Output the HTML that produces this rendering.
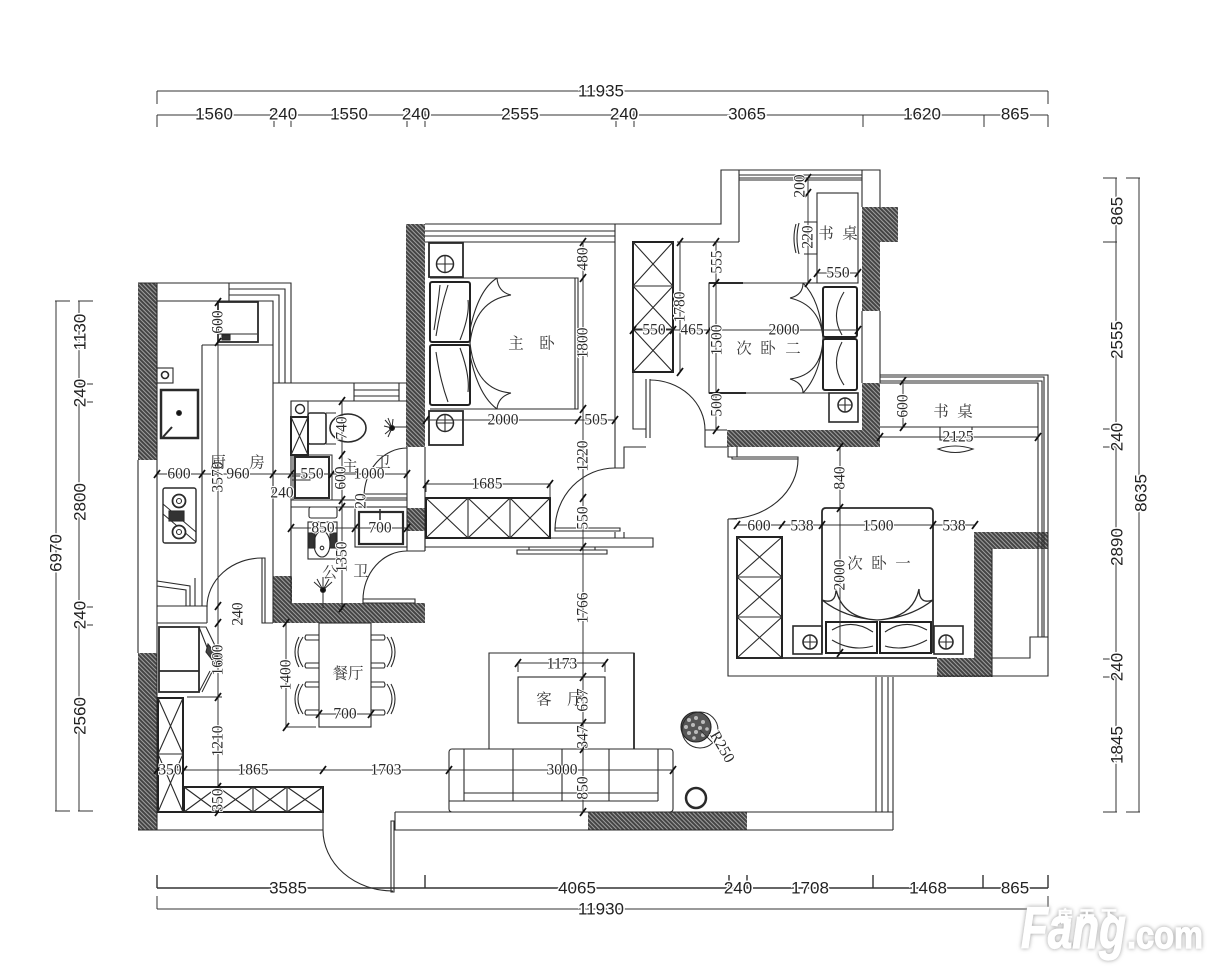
<!DOCTYPE html>
<html><head><meta charset="utf-8"><style>
html,body{margin:0;padding:0;background:#fff}
svg{display:block;filter:blur(.3px)}
.l{fill:none;stroke:#2a2a2a;stroke-width:1.1}
.h{fill:none;stroke:#222;stroke-width:2}
.d{fill:none;stroke:#333;stroke-width:1}
.s text{font-family:"Liberation Serif","Noto Serif CJK SC",serif;font-size:15.5px;fill:#2a2a2a;text-anchor:middle;dominant-baseline:central;paint-order:stroke;stroke:#fff;stroke-width:2px}
.a text{font-family:"Liberation Sans",sans-serif;font-size:17px;fill:#222;text-anchor:middle;dominant-baseline:central;paint-order:stroke;stroke:#fff;stroke-width:3px}
.c text{font-family:"Liberation Serif","Noto Serif CJK SC",serif;font-size:15.5px;fill:#3a3a3a;text-anchor:middle;dominant-baseline:central}
</style></head><body>
<svg width="1220" height="974" viewBox="0 0 1220 974" xmlns="http://www.w3.org/2000/svg">
<defs>
<pattern id="hp" width="3" height="3" patternUnits="userSpaceOnUse" patternTransform="rotate(45)"><rect width="3" height="3" fill="#444"/><rect width="3" height="1" fill="#a0a0a0"/></pattern>
<path id="t" d="M-3 4L3-4" stroke="#111" stroke-width="1.8" fill="none"/>
<filter id="wm" x="-10%" y="-20%" width="120%" height="140%"><feDropShadow dx="0" dy="0" stdDeviation="2" flood-color="#999"/></filter>
</defs>
<rect width="1220" height="974" fill="#fff"/>

<!-- hatch -->
<g fill="url(#hp)">
<rect x="138" y="283" width="19" height="177"/>
<rect x="138" y="653" width="19" height="177"/>
<rect x="406" y="224" width="19" height="223"/>
<rect x="273" y="576" width="19" height="47"/>
<rect x="273" y="603" width="152" height="20"/>
<rect x="407" y="508" width="18" height="23"/>
<path d="M862 207H898V242H880V311H862Z"/>
<path d="M862 383H880V447H727V430H862Z"/>
<path d="M974 532H1048V549H992V677H937V658H974Z"/>
<rect x="588" y="812" width="159" height="18"/>
</g>

<!-- walls -->
<g class="l">
<path d="M138 283H291V383M229 283V301M229 289H285V383M229 295H279V383M157 301H273V623M157 283V830M138 460V653"/>
<path d="M273 383H407M354 383V401M399 383V401M354 390H399M354 396H399M291 401H407M291 401V603"/>
<path d="M202 345H273M202 345V606M157 606H207V623M157 623H207M265 623H273"/>
<path d="M138 830H323M323 787V830M395 812V830H893M395 812H893M893 677V830M876 677V812M882 677V812M888 677V812"/>
<path d="M425 224H721V170H880V207M739 170V242M677 242H739M862 170V207M739 175H862M739 178H862M739 180H862"/>
<path d="M425 231H615M425 236H615M425 242H615M615 224V468H624V447H646M425 447V551"/>
<path d="M633 372V429H646M646 379V438M650 379V438M705 430V447H727M705 430H727"/>
<path d="M425 538H653V547H425M615 532V538M624 532V538M555 528H620V531H555Z"/>
<path d="M517 550H607V554H517ZM529 547H595V550H529Z"/>
<path d="M291 500H407M291 507H407M407 447V508M407 531V551H425M425 531V551M363 494H407V498H363Z"/>
<path d="M363 599H415V603H363Z"/>
<path d="M262 558H265V623H262Z"/>
<path d="M862 311V383M880 311V383M880 375H1048V676H728V519M880 377H1044V637M880 381H1042V637M880 383H1038V637M880 427H1038M880 437H1038"/>
<path d="M992 549V677M992 658H1030V637H1048M728 519H737M728 447V457H737V447M732 457H798V459H732Z"/>
<path d="M391 821H394V892H391Z"/>
</g>
<!-- door arcs -->
<g class="l">
<path d="M323 830A70 61 0 0 0 393 891"/>
<path d="M615 468A60 62 0 0 0 555 530"/>
<path d="M650 380A55 50 0 0 1 705 430"/>
<path d="M407 448A43 49 0 0 0 364 497"/>
<path d="M407 551A44 49 0 0 0 363 600"/>
<path d="M262 558A55 49 0 0 0 207 607"/>
<path d="M798 459A70 60 0 0 1 728 519"/>
</g>

<!-- wardrobes -->
<g class="l">
<rect class="h" x="633" y="242" width="40" height="130"/>
<path d="M633 286H673M633 329H673M633 242L673 286M673 242L633 286M633 286L673 329M673 286L633 329M633 329L673 372M673 329L633 372"/>
<rect class="h" x="426" y="498" width="124" height="40"/>
<path d="M468 498V538M510 498V538M426 498L468 538M468 498L426 538M468 498L510 538M510 498L468 538M510 498L550 538M550 498L510 538"/>
<rect class="h" x="737" y="537" width="45" height="121"/>
<path d="M737 577H782M737 617H782M737 537L782 577M782 537L737 577M737 577L782 617M782 577L737 617M737 617L782 658M782 617L737 658"/>
<rect class="h" x="158" y="698" width="25" height="114"/>
<path d="M158 754H183M158 698L183 754M183 698L158 754M158 754L183 812M183 754L158 812"/>
<rect class="h" x="184" y="787" width="139" height="25"/>
<path d="M218 787V812M253 787V812M287 787V812M184 787L218 812M218 787L184 812M218 787L253 812M253 787L218 812M253 787L287 812M287 787L253 812M287 787L323 812M323 787L287 812"/>
<rect x="291" y="417" width="17" height="38" class="h"/>
<path d="M291 417L308 455M308 417L291 455"/>
</g>

<!-- master bed -->
<g class="l">
<path d="M430 278H578V409H430M575 278V409"/>
<rect class="h" x="430" y="282" width="40" height="60" rx="2"/>
<rect class="h" x="430" y="345" width="40" height="60" rx="2"/>
<path d="M497 278Q478 290 470 330M497 278Q498 292 511 295M511 295Q475 300 470 343Q475 390 511 393M497 409Q478 395 470 355M497 409Q498 397 511 393"/>
<path d="M448 285Q440 310 436 336M440 285Q438 305 434 330M448 402Q440 380 436 352M460 340Q470 315 468 300M460 348Q470 375 468 392"/>
<rect x="429" y="243" width="34" height="34" stroke-width="1.8"/>
<rect x="429" y="411" width="34" height="34" stroke-width="1.8"/>
<circle cx="445" cy="264" r="8.5" stroke-width="1.5"/><path d="M445 255V273M436 264H454"/>
<circle cx="445" cy="423" r="8.5" stroke-width="1.5"/><path d="M445 414V432M436 423H454"/>
</g>

<!-- bedroom 2 -->
<g class="l">
<path d="M858 283H709V393H858"/>
<path d="M709 283H743M709 393H746" stroke-width="2"/>
<rect class="h" x="823" y="287" width="34" height="50" rx="2"/>
<rect class="h" x="823" y="339" width="34" height="51" rx="2"/>
<path d="M803 283Q820 300 823 338M803 283Q803 295 790 298M790 298Q820 305 823 338Q822 375 790 379M803 393Q820 375 823 340M803 393Q803 383 790 379"/>
<path d="M844 292Q830 315 842 335M844 385Q830 365 842 342"/>
<rect x="829" y="393" width="29" height="29" stroke-width="1.6"/>
<circle cx="845" cy="405" r="7" stroke-width="1.5"/><path d="M845 398V412M838 405H852"/>
<rect x="817" y="193" width="41" height="90"/>
<path d="M804 222H817V254H804M796 224Q792 238 796 253M799 223Q795 238 799 254"/>
<path d="M940 427V440H972V427M938 449Q955 456 973 449Q955 443 938 449Z"/>
</g>

<!-- bedroom 1 bed -->
<g class="l">
<path d="M822 653V512Q822 508 826 508H929Q933 508 933 512V653" stroke-width="1.8"/>
<rect class="h" x="826" y="622" width="51" height="31"/>
<rect class="h" x="880" y="622" width="51" height="31"/>
<path d="M822 600Q836 605 836 589M933 600Q919 605 919 589M836 589Q842 618 877 620Q913 618 919 589M822 600Q845 618 877 620Q910 618 933 600" stroke-width="1.3"/>
<path d="M832 630Q852 618 873 632M832 640Q852 652 873 646M885 632Q905 618 927 630M885 646Q905 652 927 640"/>
<rect x="793" y="626" width="29" height="28" stroke-width="1.6"/>
<rect x="934" y="626" width="29" height="28" stroke-width="1.6"/>
<circle cx="810" cy="642" r="7" stroke-width="1.6"/><path d="M810 635V649M803 642H817"/>
<circle cx="946" cy="642" r="7" stroke-width="1.6"/><path d="M946 635V649M939 642H953"/>
<path d="M737 658H937" stroke-width="1.8"/>
</g>

<!-- kitchen + baths fixtures -->
<g class="l">
<rect x="218" y="302" width="40" height="40" stroke-width="1.8"/>
<path d="M219 334H257"/>
<rect x="222" y="335" width="8" height="5" fill="#333"/>
<rect x="157" y="368" width="16" height="15"/><circle cx="165" cy="375" r="3.5" stroke-width="1.6"/>
<rect x="161" y="390" width="37" height="48" stroke-width="2.5"/><circle cx="179" cy="413" r="2.4" fill="#111"/><path d="M163 437L172 427" stroke-width="2"/>
<rect x="163" y="488" width="33" height="55" rx="2" stroke-width="1.4"/>
<path d="M163 504L196 532M163 514L196 542" stroke-width="1"/>
<circle cx="179" cy="501" r="6.5" stroke-width="1.8" fill="#fff"/><circle cx="179" cy="501" r="2.5"/>
<circle cx="179" cy="532" r="6.5" stroke-width="1.8" fill="#fff"/><circle cx="179" cy="532" r="2.5"/>
<rect x="169" y="511" width="15" height="10" fill="#333"/>
<path d="M157 581L190 586V606M157 586L186 590V606M195 578V606"/>
<rect x="159" y="627" width="40" height="65" stroke-width="1.8"/><path d="M159 671H199" stroke-width="1.8"/>
<path d="M199 627L206 627L222 660L214 665Z"/>
<path d="M208 644L222 662L217 666L206 652Z" fill="#444"/>
<path d="M199 692L210 671M202 692L212 672M187 697H222" stroke-width="1"/>
<rect x="291" y="401" width="17" height="16"/><circle cx="300" cy="409" r="4.5" stroke-width="1.4"/>
<rect x="308" y="413" width="18" height="31" rx="2" stroke-width="1.6"/>
<path d="M326 413H336M326 444H336"/>
<ellipse cx="348" cy="428" rx="18" ry="14" stroke-width="1.6"/>
<rect x="293" y="455" width="39" height="45" stroke-width="1"/><rect x="295" y="457" width="34" height="41" stroke-width="2"/>
<path d="M292 476H310V480H292" />
<rect x="355" y="507" width="52" height="40"/><rect x="359" y="512" width="44" height="32" stroke-width="2.2"/>
<path d="M380 509V520" stroke-width="1.5"/>
<rect x="309" y="507" width="28" height="11" rx="2"/>
<rect x="308" y="522" width="29" height="37"/>
<rect x="309" y="533" width="6" height="15" fill="#333"/><rect x="330" y="533" width="6" height="15" fill="#333"/>
<ellipse cx="322" cy="544" rx="8" ry="13"/><circle cx="322" cy="548" r="1.8"/>
<path d="M393 427H407M323 608V590M323 590L314 582M323 590L317 579M323 590L323 577M323 590L329 579M323 590L332 582" stroke-width="1"/>
<path d="M392 428L385 420M392 428L388 418M392 428L393 419M392 428L384 426M392 428L385 434M392 428L388 437" stroke-width="1"/>
<circle cx="392" cy="428" r="2.5" fill="#111"/><circle cx="323" cy="590" r="2.5" fill="#111"/>
</g>

<!-- dining -->
<g class="l">
<rect x="319" y="623" width="52" height="104"/>
<path d="M319 635H306Q304 638 306 640H319M319 663H306Q304 666 306 668H319M303 637Q293 652 303 667M299 637Q291 652 299 667"/>
<path d="M319 682H306Q304 685 306 687H319M319 710H306Q304 713 306 715H319M303 684Q293 699 303 714M299 684Q291 699 299 714"/>
<path d="M371 635H384Q386 638 384 640H371M371 663H384Q386 666 384 668H371M387 637Q397 652 387 667M391 637Q399 652 391 667"/>
<path d="M371 682H384Q386 685 384 687H371M371 710H384Q386 713 384 715H371M387 684Q397 699 387 714M391 684Q399 699 391 714"/>
</g>

<!-- living -->
<g class="l">
<path d="M489 749V653H634V749"/><path d="M634 653V749" stroke-width="1.8"/>
<rect x="518" y="677" width="87" height="46"/>
<rect x="449" y="749" width="224" height="63" rx="3"/>
<path d="M464 749V801M658 749V801M513 749V801M562 749V801M609 749V801M464 793H658M449 801H658"/>
<circle cx="696" cy="727" r="15" fill="#555" stroke="#222"/>
<g fill="#bbb" stroke="none">
<circle cx="689" cy="720" r="2"/><circle cx="696" cy="718" r="2"/><circle cx="703" cy="722" r="2"/><circle cx="686" cy="727" r="2"/><circle cx="693" cy="725" r="2"/><circle cx="700" cy="728" r="2"/><circle cx="707" cy="729" r="1.8"/><circle cx="689" cy="733" r="2"/><circle cx="696" cy="732" r="2"/><circle cx="703" cy="735" r="2"/><circle cx="694" cy="738" r="1.8"/>
</g>
<circle cx="700" cy="730" r="18" stroke-width="1"/>
<circle cx="696" cy="798" r="10" stroke-width="2.5"/>
</g>

<!-- outer dims -->
<g class="d">
<path d="M157 91H1048M157 91V104M1048 91V104"/>
<path d="M157 115H1048M157 115V127M274 110V127M291 110V127M407 110V127M425 110V127M616 110V127M634 110V127M863 115V127M984 115V127M1048 115V127"/>
<path d="M157 888H1048M157 875V888M425 875V888M729 875V888M747 875V888M873 875V888M983 875V888M1048 875V888" stroke-width="1.4"/>
<path d="M157 909H1048M157 896V909M1048 896V909"/>
<path d="M56 301V811M55 301H70M55 811H70M79 301V811M78 301H93M78 811H93M79 384H93M79 402H93M79 607H93M79 625H93"/>
<path d="M1116 178V812M1103 178H1117M1103 812H1117M1139 178V812M1126 178H1140M1126 812H1140M1103 242H1117M1103 429H1117M1103 447H1117M1103 659H1117M1103 677H1117"/>
</g>

<!-- inner dims -->
<g class="d">
<path d="M157 474H407M291 528H407"/>
<path d="M218 302V812M342 401V610M583 242V812"/>
<path d="M238 606V623M286 623V727M286 727H316"/>
<path d="M157 770H449H673M426 420H615M426 484H550M426 484V492M550 484V498M518 663H605M518 663V672M605 663V672"/>
<path d="M633 330H858M716 242V430M680 242V372"/>
<path d="M808 178V283M817 273H858M903 381V427"/>
<path d="M840 447V653M737 525H975"/>
<path d="M319 714H371M700 730L712 742"/>
</g>
<g>
<use href="#t" x="157" y="474"/><use href="#t" x="202" y="474"/><use href="#t" x="273" y="474"/><use href="#t" x="291" y="474"/><use href="#t" x="332" y="474"/><use href="#t" x="407" y="474"/>
<use href="#t" x="291" y="528"/><use href="#t" x="355" y="528"/><use href="#t" x="407" y="528"/>
<use href="#t" x="218" y="302"/><use href="#t" x="218" y="342"/><use href="#t" x="218" y="606"/><use href="#t" x="218" y="623"/><use href="#t" x="218" y="697"/><use href="#t" x="218" y="787"/><use href="#t" x="218" y="812"/>
<use href="#t" x="342" y="401"/><use href="#t" x="342" y="455"/><use href="#t" x="342" y="500"/><use href="#t" x="342" y="507"/><use href="#t" x="342" y="608"/>
<use href="#t" x="286" y="623"/><use href="#t" x="286" y="727"/><use href="#t" x="319" y="714"/><use href="#t" x="371" y="714"/>
<use href="#t" x="157" y="770"/><use href="#t" x="184" y="770"/><use href="#t" x="323" y="770"/><use href="#t" x="449" y="770"/><use href="#t" x="673" y="770"/>
<use href="#t" x="518" y="663"/><use href="#t" x="605" y="663"/>
<use href="#t" x="583" y="242"/><use href="#t" x="583" y="278"/><use href="#t" x="583" y="409"/><use href="#t" x="583" y="498"/><use href="#t" x="583" y="547"/><use href="#t" x="583" y="677"/><use href="#t" x="583" y="723"/><use href="#t" x="583" y="749"/><use href="#t" x="583" y="812"/>
<use href="#t" x="426" y="420"/><use href="#t" x="578" y="420"/><use href="#t" x="615" y="420"/><use href="#t" x="426" y="484"/><use href="#t" x="550" y="484"/>
<use href="#t" x="633" y="330"/><use href="#t" x="673" y="330"/><use href="#t" x="709" y="330"/><use href="#t" x="858" y="330"/>
<use href="#t" x="716" y="242"/><use href="#t" x="716" y="283"/><use href="#t" x="716" y="393"/><use href="#t" x="716" y="430"/><use href="#t" x="680" y="242"/><use href="#t" x="680" y="372"/>
<use href="#t" x="808" y="178"/><use href="#t" x="808" y="193"/><use href="#t" x="808" y="283"/><use href="#t" x="817" y="273"/><use href="#t" x="858" y="273"/>
<use href="#t" x="903" y="381"/><use href="#t" x="903" y="427"/><use href="#t" x="880" y="437"/><use href="#t" x="1038" y="437"/>
<use href="#t" x="840" y="447"/><use href="#t" x="840" y="508"/><use href="#t" x="840" y="653"/>
<use href="#t" x="737" y="525"/><use href="#t" x="782" y="525"/><use href="#t" x="822" y="525"/><use href="#t" x="933" y="525"/><use href="#t" x="975" y="525"/>
</g>

<!-- outer labels -->
<g class="a">
<text x="601" y="91">11935</text>
<text x="214" y="114">1560</text><text x="283" y="114">240</text><text x="349" y="114">1550</text><text x="416" y="114">240</text><text x="520" y="114">2555</text><text x="624" y="114">240</text><text x="747" y="114">3065</text><text x="922" y="114">1620</text><text x="1015" y="114">865</text>
<text x="288" y="888">3585</text><text x="577" y="888">4065</text><text x="738" y="888">240</text><text x="810" y="888">1708</text><text x="928" y="888">1468</text><text x="1015" y="888">865</text>
<text x="601" y="909">11930</text>
<text transform="translate(56 553) rotate(-90)">6970</text>
<text transform="translate(80 332) rotate(-90)">1130</text><text transform="translate(80 393) rotate(-90)">240</text><text transform="translate(80 502) rotate(-90)">2800</text><text transform="translate(80 615) rotate(-90)">240</text><text transform="translate(80 716) rotate(-90)">2560</text>
<text transform="translate(1141 493) rotate(-90)">8635</text>
<text transform="translate(1117 211) rotate(-90)">865</text><text transform="translate(1117 340) rotate(-90)">2555</text><text transform="translate(1117 437) rotate(-90)">240</text><text transform="translate(1117 547) rotate(-90)">2890</text><text transform="translate(1117 667) rotate(-90)">240</text><text transform="translate(1117 745) rotate(-90)">1845</text>
</g>

<!-- inner labels -->
<g class="s">
<text x="179" y="474">600</text><text x="238" y="474">960</text><text x="312" y="474">550</text><text x="369" y="474">1000</text><text x="282" y="493">240</text>
<text x="323" y="528">850</text><text x="380" y="528">700</text>
<text transform="translate(218 322) rotate(-90)">600</text><text transform="translate(218 477) rotate(-90)">3570</text>
<text transform="translate(342 428) rotate(-90)">740</text><text transform="translate(341 478) rotate(-90)">600</text><text transform="translate(361 501) rotate(-90)" font-size="12">20</text><text transform="translate(342 557) rotate(-90)">1350</text>
<text transform="translate(238 614) rotate(-90)">240</text><text transform="translate(218 660) rotate(-90)">1600</text><text transform="translate(218 741) rotate(-90)">1210</text><text transform="translate(218 800) rotate(-90)">350</text>
<text transform="translate(286 675) rotate(-90)">1400</text><text x="345" y="714">700</text>
<text x="170" y="770">350</text><text x="253" y="770">1865</text><text x="386" y="770">1703</text><text x="562" y="770">3000</text><text x="562" y="664">1173</text>
<text transform="translate(583 788) rotate(-90)">850</text><text transform="translate(583 737) rotate(-90)">347</text><text transform="translate(583 700) rotate(-90)">637</text><text transform="translate(583 608) rotate(-90)">1766</text><text transform="translate(583 518) rotate(-90)">550</text><text transform="translate(583 456) rotate(-90)">1220</text><text transform="translate(583 343) rotate(-90)">1800</text><text transform="translate(583 259) rotate(-90)">480</text>
<text x="503" y="420">2000</text><text x="596" y="420">505</text><text x="487" y="484">1685</text>
<text x="654" y="330">550</text><text x="692" y="330">465</text><text x="784" y="330">2000</text>
<text transform="translate(680 307) rotate(-90)">1780</text><text transform="translate(717 340) rotate(-90)">1500</text><text transform="translate(717 262) rotate(-90)">555</text><text transform="translate(717 405) rotate(-90)">500</text>
<text transform="translate(800 186) rotate(-90)">200</text><text transform="translate(808 237) rotate(-90)">220</text><text x="838" y="273">550</text>
<text transform="translate(903 406) rotate(-90)">600</text><text x="958" y="437">2125</text>
<text transform="translate(840 478) rotate(-90)">840</text><text transform="translate(840 575) rotate(-90)">2000</text>
<text x="759" y="526">600</text><text x="802" y="526">538</text><text x="878" y="526">1500</text><text x="954" y="526">538</text>
<text transform="translate(722 747) rotate(60)">R250</text>
</g>
<g class="c">
<text x="218" y="463">厨</text><text x="257" y="463">房</text>
<text x="350" y="467">主</text><text x="383" y="463">卫</text>
<text x="330" y="573">公</text><text x="361" y="572">卫</text>
<text x="348" y="674">餐厅</text>
<text x="516" y="344">主</text><text x="547" y="344">卧</text>
<text x="744" y="349">次</text><text x="768" y="349">卧</text><text x="793" y="349">二</text>
<text x="826" y="234">书</text><text x="850" y="234">桌</text>
<text x="941" y="412">书</text><text x="965" y="412">桌</text>
<text x="855" y="564">次</text><text x="879" y="564">卧</text><text x="903" y="564">一</text>
<text x="544" y="700">客</text><text x="575" y="700">厅</text>
</g>

<!-- watermark -->
<g filter="url(#wm)" fill="#fff" stroke="#fff" stroke-width="1.2">
<text x="1021" y="948" font-family="'Liberation Sans',sans-serif" font-weight="700" font-style="italic" font-size="58" textLength="105" lengthAdjust="spacingAndGlyphs">Fang</text>
<text x="1127" y="948" font-family="'Liberation Sans',sans-serif" font-weight="700" font-size="38" textLength="76" lengthAdjust="spacingAndGlyphs">.com</text>
<text x="1057" y="922" font-family="'Liberation Sans','Noto Sans CJK SC',sans-serif" font-weight="700" font-size="16" textLength="60" stroke-width="0.4">房天下</text>
</g>
</svg>
</body></html>
